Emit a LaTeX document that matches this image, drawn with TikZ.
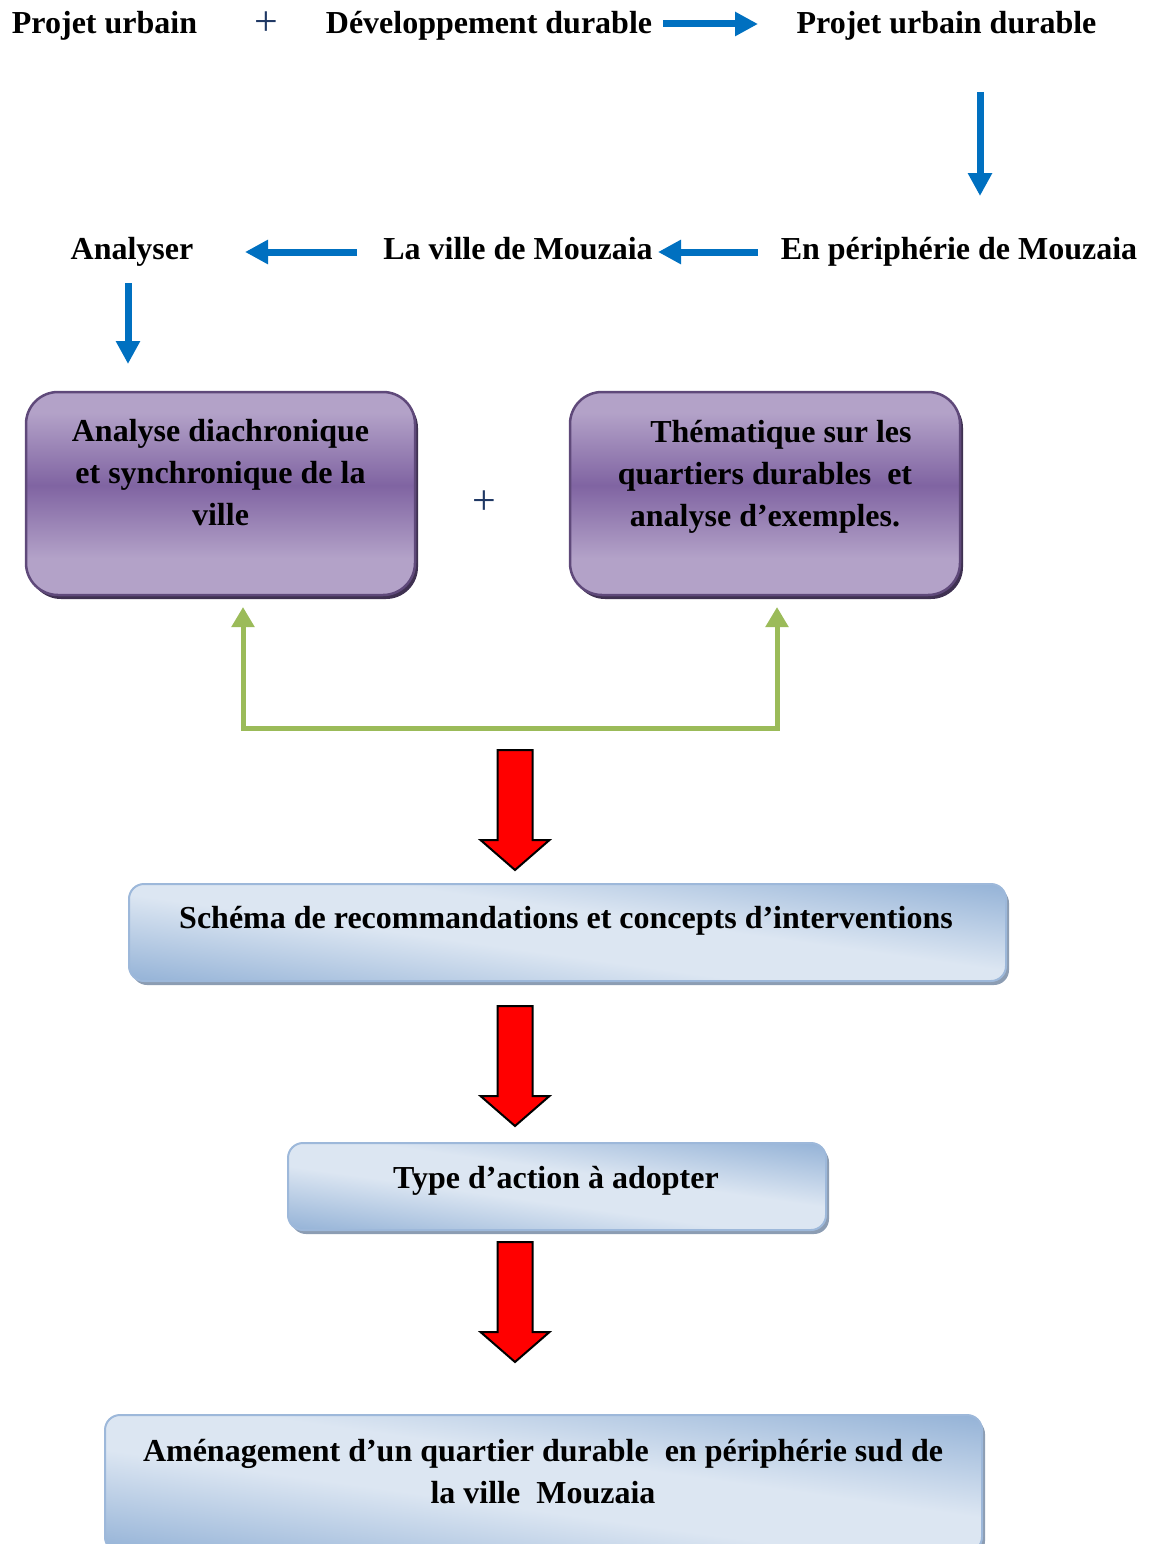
\documentclass[tikz,border=0pt]{standalone}
\usepackage{fontspec}
\setmainfont{Liberation Serif}
\usetikzlibrary{arrows.meta,shadows}
\definecolor{ablue}{HTML}{0070C0}
\definecolor{plusblue}{HTML}{1F3864}
\definecolor{pdark}{HTML}{8064A2}
\definecolor{plight}{HTML}{B3A2C8}
\definecolor{pborder}{HTML}{5F497A}
\definecolor{pshadow}{HTML}{3F3151}
\definecolor{bdark}{HTML}{95B3D7}
\definecolor{blight}{HTML}{DCE6F2}
\definecolor{bborder}{HTML}{9DB8DA}
\definecolor{bshadow}{HTML}{8C9DB3}
\definecolor{agreen}{HTML}{9BBB59}
\pgfdeclareverticalshading{purpsh}{100bp}{color(0bp)=(plight); color(25bp)=(plight); color(34bp)=(plight); color(52bp)=(pdark); color(70bp)=(plight); color(75bp)=(plight); color(100bp)=(plight)}
\pgfdeclareverticalshading{bluesh}{100bp}{color(0bp)=(bdark); color(22bp)=(bdark); color(44bp)=(blight); color(56bp)=(blight); color(78bp)=(bdark); color(100bp)=(bdark)}
\tikzset{
  txt/.style={font=\fontsize{32}{42}\selectfont\bfseries, inner sep=0pt},
  plussign/.style={font=\fontsize{42}{42}\selectfont, text=plusblue, inner sep=0pt},
  barrow/.style={draw=ablue, line width=7pt, -{Triangle[length=23pt,width=23pt]}},
  garrow/.style={draw=agreen, line width=5pt, {Triangle[length=20pt,width=22pt]}-{Triangle[length=20pt,width=22pt]}},
  pbox/.style={rectangle, rounded corners=32pt, draw=pborder, line width=2.5pt, shading=purpsh,
    drop shadow={shadow xshift=3pt, shadow yshift=-4pt, fill=pshadow, opacity=1}},
  bbox/.style={rectangle, rounded corners=15pt, draw=bborder, line width=2pt, shading=bluesh, shading angle=-8,
    drop shadow={shadow xshift=3pt, shadow yshift=-4pt, fill=bshadow, opacity=1}},
  redblk/.style={draw=black, line width=2pt, fill=red, line join=miter},
  redarrow/.pic={\path[redblk] (-17.5,0) -- (17.5,0) -- (17.5,90) -- (34.5,90) -- (0,120) -- (-34.5,90) -- (-17.5,90) -- cycle;}
}
\begin{document}
\begin{tikzpicture}[x=1pt, y=-1pt]
\useasboundingbox (0,0) rectangle (1149,1544);
% top row
\node[txt, anchor=base] (pu) at (104.5,34) {Projet urbain};
\node[plussign] (plus1) at (266,24) {+};
\node[txt, anchor=base] (dd) at (489,34) {Développement durable};
\node[txt, anchor=base] (pud) at (946.5,34) {Projet urbain durable};
\coordinate (a1s) at (663,24);
\coordinate (a1e) at (758,24);
\draw[barrow] (a1s) -- (a1e);
\coordinate (a2s) at (980,92);
\coordinate (a2e) at (980,196);
\draw[barrow] (a2s) -- (a2e);
% second row
\node[txt, anchor=base] (ana) at (132,259) {Analyser};
\node[txt, anchor=base] (lv) at (518,259) {La ville de Mouzaia};
\node[txt, anchor=base] (ep) at (959,259) {En périphérie de Mouzaia};
\coordinate (a3s) at (758,252);
\coordinate (a3e) at (658,252);
\draw[barrow] (a3s) -- (a3e);
\coordinate (a4s) at (357,252);
\coordinate (a4e) at (245,252);
\draw[barrow] (a4s) -- (a4e);
\coordinate (a5s) at (128,283);
\coordinate (a5e) at (128,364);
\draw[barrow] (a5s) -- (a5e);
% purple boxes
\node[pbox, minimum width=389pt, minimum height=203pt] (diach) at (220.5,493.5) {};
\node[txt, align=center] (diacht) at (220.5,473) {Analyse diachronique\\et synchronique de la\\ville};
\node[pbox, minimum width=390pt, minimum height=203pt] (them) at (765,493.5) {};
\node[txt, align=center] (themt) at (765,476.5) {\hspace*{32pt}Thématique sur les\\quartiers durables\ \ et\\analyse d’exemples.};
\node[plussign] (plus2) at (484,503) {+};
% green connector
\coordinate (gl) at (243,607);
\coordinate (gr) at (777,607);
\draw[garrow] (gl) -- (243,728) -- (777,728) -- (gr);
% red arrows
\pic at (515,750) {redarrow};
\pic at (515,1006) {redarrow};
\pic at (515,1242) {redarrow};
% blue boxes
\node[bbox, minimum width=877pt, minimum height=97pt] (sch) at (567.5,932.5) {};
\node[txt, anchor=base] (scht) at (566,928) {Schéma de recommandations et concepts d’interventions};
\node[bbox, minimum width=538pt, minimum height=87pt] (type) at (557,1186.5) {};
\node[txt, anchor=base] (typet) at (556,1188) {Type d’action à adopter};
\node[bbox, minimum width=877pt, minimum height=137pt] (amg) at (543.5,1483.5) {};
\node[txt, align=center] (amgt) at (543,1472) {Aménagement d’un quartier durable\ \ en périphérie sud de\\la ville\ \ Mouzaia};
\end{tikzpicture}
\end{document}
